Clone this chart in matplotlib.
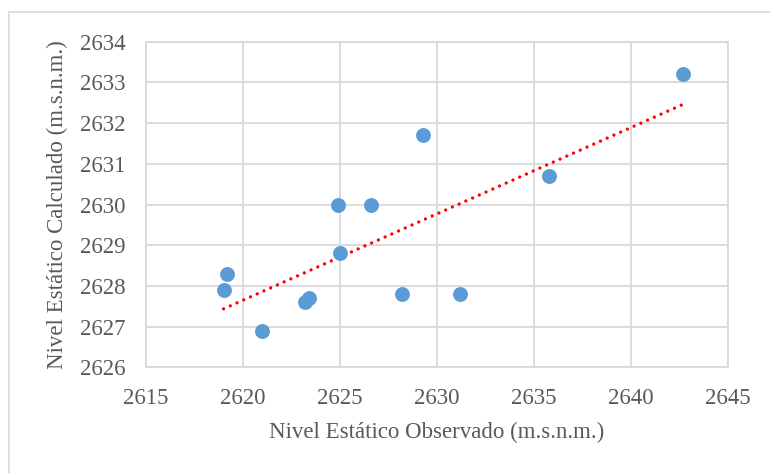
import numpy as np
import matplotlib
matplotlib.use("Agg")
import matplotlib.pyplot as plt
from matplotlib.patches import Rectangle

plt.rcParams['font.family'] = ['Liberation Serif', 'DejaVu Serif']

# observed vs. calculated static level (m.s.n.m.)
observado = [2619.0, 2619.2, 2621.0, 2623.2, 2623.4, 2624.9, 2625.0,
             2626.6, 2628.2, 2629.3, 2631.2, 2635.8, 2642.7]
calculado = [2627.9, 2628.3, 2626.9, 2627.6, 2627.7, 2630.0, 2628.8,
             2630.0, 2627.8, 2631.7, 2627.8, 2630.7, 2633.2]

x_ticks = [2615, 2620, 2625, 2630, 2635, 2640, 2645]
y_ticks = [2626, 2627, 2628, 2629, 2630, 2631, 2632, 2633, 2634]

text_color = '#595959'
grid_color = '#d9d9d9'

fig = plt.figure(figsize=(7.7, 4.73), dpi=100)
ax = fig.add_axes([0.1896, 0.2235, 0.7554, 0.6883])

# outer chart frame (Excel style)
fig.patches.append(Rectangle((8.5 / 770, -0.1), 1.2, 1 - 12 / 473 + 0.1,
                             transform=fig.transFigure, fill=False,
                             edgecolor=grid_color, linewidth=1.2))

ax.scatter(observado, calculado, s=115, color='#5b9bd5', zorder=3,
           linewidths=0)

# linear trendline
m, b = np.polyfit(observado, calculado, 1)
xs = np.array([min(observado), max(observado)])
ax.plot(xs, m * xs + b, color='#ff0000', linewidth=2.4,
        linestyle=(0, (0.01, 2.2)), dash_capstyle='round', zorder=2)

ax.set_xlim(2615, 2645)
ax.set_ylim(2626, 2634)
ax.set_xticks(x_ticks)
ax.set_yticks(y_ticks)
ax.grid(True, color=grid_color, linewidth=1.3)
ax.set_axisbelow(True)
for s in ax.spines.values():
    s.set_color(grid_color)
    s.set_linewidth(1.3)
ax.tick_params(axis='x', length=0, labelsize=16.5, labelcolor=text_color, pad=15)
ax.tick_params(axis='y', length=0, labelsize=16.5, labelcolor=text_color, pad=15)

ax.set_xlabel('Nivel Estático Observado (m.s.n.m.)', fontsize=16.5,
              color=text_color, labelpad=9)
ax.set_ylabel('Nivel Estático Calculado (m.s.n.m.)', fontsize=16.5,
              color=text_color, labelpad=8)

fig.savefig('out.png', dpi=100)
